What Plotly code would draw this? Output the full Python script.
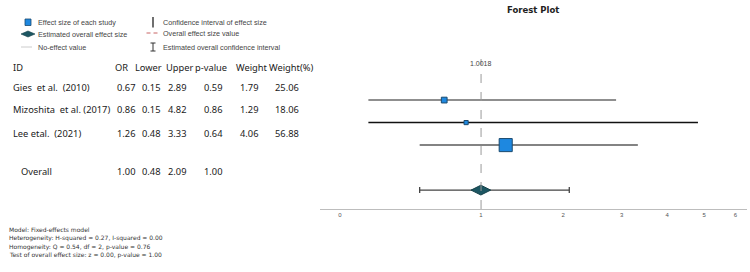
import numpy as np
import plotly.graph_objects as go

# ---------------- data ----------------
studies = ["Gies  et al.  (2010)", "Mizoshita  et al. (2017)", "Lee etal.  (2021)"]
or_vals = [0.67, 0.86, 1.26]
lower = [0.15, 0.15, 0.48]
upper = [2.89, 4.82, 3.33]
pvals = [0.59, 0.86, 0.64]
weights = [1.79, 1.29, 4.06]
weight_pct = [25.06, 18.06, 56.88]
row_pos = [0, 1, 2]

overall_label = "Overall"
overall_or = 1.00
overall_lower = 0.48
overall_upper = 2.09
overall_p = 1.00
overall_pos = 4
overall_value = 1.0018

tick_values = [0, 1, 2, 3, 4, 5, 6]
tick_labels = ["0", "1", "2", "3", "4", "5", "6"]

header = ["ID", "OR", "Lower", "Upper", "p-value", "Weight", "Weight(%)"]
footnotes = [
    "Model: Fixed-effects model",
    "Heterogeneity: H-squared = 0.27, I-squared = 0.00",
    "Homogeneity: Q = 0.54, df = 2, p-value = 0.76",
    "Test of overall effect size: z = 0.00, p-value = 1.00",
]
legend_items_left = ["Effect size of each study", "Estimated overall effect size", "No-effect value"]
legend_items_right = ["Confidence interval of effect size", "Overall effect size value",
                      "Estimated overall confidence interval"]

# ---------------- figure ----------------
W, H = 750, 272


def px(x):
    return x / W


def py(y):
    return 1 - y / H


def tr(v):
    return np.log10(1 + np.asarray(v, dtype=float))


fig = go.Figure()

line_colors = ["#6a6a6a", "#111111", "#5a5a5a"]
for i in range(len(studies)):
    c = tr(or_vals[i])
    fig.add_trace(go.Scatter(
        x=[c], y=[row_pos[i]], mode="markers",
        marker=dict(symbol="square", size=weight_pct[i] * 0.23, color="#1e88e0",
                    line=dict(color="#1b4a6e", width=1)),
        error_x=dict(type="data", symmetric=False,
                     array=[tr(upper[i]) - c], arrayminus=[c - tr(lower[i])],
                     color=line_colors[i], thickness=1.5, width=0),
        showlegend=False, hoverinfo="skip"))

c = tr(overall_or)
fig.add_trace(go.Scatter(
    x=[c], y=[overall_pos], mode="markers",
    marker=dict(symbol="diamond-wide", size=14, color="#1c5662",
                line=dict(color="#15414a", width=1)),
    error_x=dict(type="data", symmetric=False,
                 array=[tr(overall_upper) - c], arrayminus=[c - tr(overall_lower)],
                 color="#444444", thickness=1.3, width=3),
    showlegend=False, hoverinfo="skip"))

# overall effect dashed line
xv = float(tr(overall_value))
fig.add_shape(type="line", xref="x", yref="paper", x0=xv, x1=xv, y0=py(209), y1=py(59),
              line=dict(color="#9a9a9a", width=1, dash="dash"))
fig.add_annotation(x=xv, xref="x", y=py(63), yref="paper", text=f"{overall_value:.4f}",
                   showarrow=False, font=dict(family="Arial", size=7, color="#444"),
                   xanchor="center", yanchor="middle")

fig.update_xaxes(domain=[px(320), px(747)], range=[-0.0427, 0.8697],
                 tickvals=list(tr(tick_values)), ticktext=tick_labels,
                 showline=True, linecolor="#bdbdbd", linewidth=1, showgrid=False,
                 zeroline=False, ticks="", tickfont=dict(family="Arial", size=6, color="#555"),
                 fixedrange=True)
fig.update_yaxes(domain=[py(209), py(58)], range=[4.84, -1.87], visible=False,
                 showgrid=False, zeroline=False, fixedrange=True)

# title
fig.add_annotation(x=px(533), y=py(10), xref="paper", yref="paper", text="<b>Forest Plot</b>",
                   showarrow=False, font=dict(family="DejaVu Sans", size=8.5, color="#222"),
                   xanchor="center", yanchor="middle")

# ---------------- legend ----------------
lf = dict(family="Arial", size=7.2, color="#444")
for t, y in zip(legend_items_left, [22.5, 34, 47]):
    fig.add_annotation(x=px(36), y=py(y), xref="paper", yref="paper", text=t, showarrow=False,
                       font=lf, xanchor="left", yanchor="middle")
for t, y in zip(legend_items_right, [22.5, 33, 47]):
    fig.add_annotation(x=px(161), y=py(y), xref="paper", yref="paper", text=t, showarrow=False,
                       font=lf, xanchor="left", yanchor="middle")

fig.add_shape(type="rect", xref="paper", yref="paper", x0=px(25), x1=px(31), y0=py(25.5), y1=py(19),
              fillcolor="#1e88e0", line=dict(color="#1b4a6e", width=0.8))
fig.add_shape(type="path", xref="paper", yref="paper",
              path=f"M {px(21)} {py(34)} L {px(28)} {py(31)} L {px(35)} {py(34)} L {px(28)} {py(37)} Z",
              fillcolor="#1c5662", line=dict(color="#15414a", width=0.6))
fig.add_shape(type="line", xref="paper", yref="paper", x0=px(21), x1=px(32), y0=py(47), y1=py(47),
              line=dict(color="#cccccc", width=1))
fig.add_shape(type="line", xref="paper", yref="paper", x0=px(153), x1=px(153), y0=py(17), y1=py(27.5),
              line=dict(color="#333", width=1.4))
fig.add_shape(type="line", xref="paper", yref="paper", x0=px(146.5), x1=px(158), y0=py(33), y1=py(33),
              line=dict(color="#c86464", width=1, dash="4px,3px"))
fig.add_shape(type="line", xref="paper", yref="paper", x0=px(153), x1=px(153), y0=py(43), y1=py(51),
              line=dict(color="#333", width=1))
for yy in (43, 51):
    fig.add_shape(type="line", xref="paper", yref="paper", x0=px(150.5), x1=px(155.5), y0=py(yy), y1=py(yy),
                  line=dict(color="#333", width=1))

# ---------------- table ----------------
tf = dict(family="Noto Sans", size=9.3, color="#1a1a1a")
head_x = [11, 113, 133, 164, 193, 234, 267]
for t, x in zip(header, head_x):
    fig.add_annotation(x=px(x), y=py(67.5), xref="paper", yref="paper", text=t, showarrow=False,
                       font=tf, xanchor="left", yanchor="middle")

col_x = [115, 140, 166, 202, 238, 273]
row_y = [87.5, 109.5, 133.5]
for i, name in enumerate(studies):
    vals = [or_vals[i], lower[i], upper[i], pvals[i], weights[i], weight_pct[i]]
    fig.add_annotation(x=px(11), y=py(row_y[i]), xref="paper", yref="paper", text=name,
                       showarrow=False, font=tf, xanchor="left", yanchor="middle")
    for v, x in zip(vals, col_x):
        fig.add_annotation(x=px(x), y=py(row_y[i]), xref="paper", yref="paper", text=f"{v:.2f}",
                           showarrow=False, font=tf, xanchor="left", yanchor="middle")

fig.add_annotation(x=px(19), y=py(171), xref="paper", yref="paper", text=overall_label,
                   showarrow=False, font=tf, xanchor="left", yanchor="middle")
for v, x in zip([overall_or, overall_lower, overall_upper, overall_p], col_x):
    fig.add_annotation(x=px(x), y=py(171), xref="paper", yref="paper", text=f"{v:.2f}",
                       showarrow=False, font=tf, xanchor="left", yanchor="middle")

# ---------------- footnotes ----------------
ff = dict(family="DejaVu Sans", size=6, color="#333")
for t, y in zip(footnotes, [229.5, 238, 246.5, 254.5]):
    fig.add_annotation(x=px(7), y=py(y), xref="paper", yref="paper", text=t, showarrow=False,
                       font=ff, xanchor="left", yanchor="middle")

fig.update_layout(width=W, height=H, autosize=False, margin=dict(l=0, r=0, t=0, b=0),
                  paper_bgcolor="white", plot_bgcolor="white", showlegend=False)

fig.write_html("out.html", config={"displayModeBar": False},
               post_script="document.body.style.margin='0';document.body.style.padding='0';")
